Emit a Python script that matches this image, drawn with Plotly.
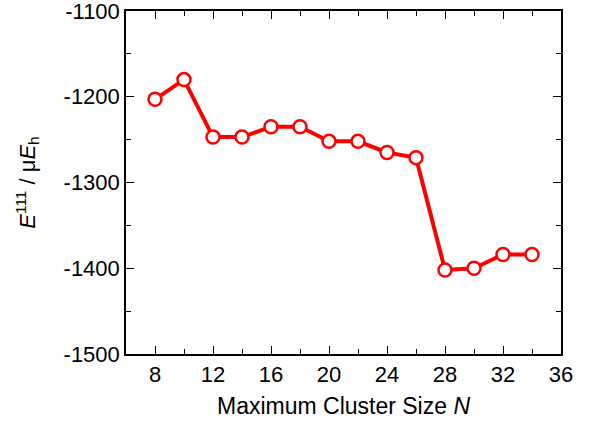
import plotly.graph_objects as go

cluster_size = [8, 10, 12, 14, 16, 18, 20, 22, 24, 26, 28, 30, 32, 34]
energy = [-1203, -1180, -1247, -1247, -1235, -1235, -1252, -1252, -1265, -1271, -1402, -1400, -1384, -1384]
x_ticks = [8, 12, 16, 20, 24, 28, 32, 36]
y_ticks = [-1500, -1400, -1300, -1200, -1100]
y_tick_labels = ["-1500", "-1400", "-1300", "-1200", "-1100"]

fig = go.Figure()
fig.add_trace(go.Scatter(
    x=cluster_size, y=energy, mode="lines+markers",
    line=dict(color="#ff0000", width=4),
    marker=dict(symbol="circle", size=13, color="white",
                line=dict(color="#ff0000", width=2.5)),
    showlegend=False, cliponaxis=False,
))

font = "Liberation Sans, Arial, Helvetica, sans-serif"
common = dict(showline=True, linecolor="black", linewidth=1.5, mirror="ticks",
              ticks="inside", ticklen=8, tickwidth=1.2, tickcolor="black",
              showgrid=False, zeroline=False, automargin=False,
              ticklabeloverflow="allow",
              tickfont=dict(family=font, size=22, color="black"))
fig.update_xaxes(range=[6, 36], tickvals=x_ticks,
                 minor=dict(ticks="inside", dtick=2, tick0=0, ticklen=5, tickwidth=1.2, tickcolor="black"),
                 title=dict(text="Maximum Cluster Size <i>N</i>", font=dict(family=font, size=23, color="black"), standoff=12),
                 **common)
fig.update_yaxes(range=[-1500, -1100], tickvals=y_ticks, ticktext=y_tick_labels,
                 minor=dict(ticks="inside", dtick=50, tick0=0, ticklen=5, tickwidth=1.2, tickcolor="black"),
                 title=dict(text="<i>E</i><sup>111</sup> / μ<i>E</i><sub>h</sub>", font=dict(family=font, size=22, color="black"), standoff=22),
                 **common)
fig.update_layout(width=590, height=421, margin=dict(l=126, r=29, t=11, b=67),
                  plot_bgcolor="white", paper_bgcolor="white")
fig.write_html("out.html", config={"displayModeBar": False},
               post_script="document.body.style.margin='0';")
